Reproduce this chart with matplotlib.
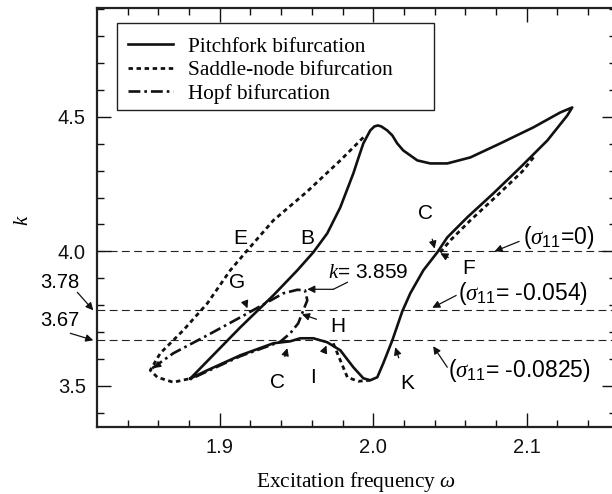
import matplotlib
matplotlib.use('Agg')
import matplotlib.pyplot as plt
from matplotlib.patches import Rectangle

plt.rcParams['font.family'] = 'Liberation Sans'
plt.rcParams['mathtext.fontset'] = 'custom'
plt.rcParams['mathtext.rm'] = 'Liberation Sans'
plt.rcParams['mathtext.it'] = 'Liberation Serif:italic'

# pitchfork bifurcation set (closed loop)
pitch_w = [1.8808, 1.9134, 1.9349, 1.9505, 1.9609, 1.9700, 1.9785, 1.9870, 1.9902, 1.9935,
           1.9980, 2.0007, 2.0030, 2.0052, 2.0091, 2.0124, 2.0156, 2.0195, 2.0287, 2.0371,
           2.0482, 2.0632, 2.0827, 2.1042, 2.1218, 2.1296, 2.1264, 2.1134, 2.0958, 2.0782,
           2.0612, 2.0482, 2.0417, 2.0326, 2.0241, 2.0189, 2.0124, 2.0065, 2.0026, 1.9980,
           1.9935, 1.9870, 1.9785, 1.9700, 1.9609, 1.9524, 1.9459, 1.9349, 1.9134, 1.8919,
           1.8808]
pitch_k = [3.527, 3.7175, 3.8364, 3.9294, 3.9963, 4.0669, 4.1636, 4.2900, 4.3457, 4.4015,
           4.4498, 4.4647, 4.4684, 4.4647, 4.4498, 4.4312, 4.4015, 4.3755, 4.3383, 4.3271,
           4.3271, 4.3494, 4.4015, 4.4610, 4.5167, 4.5353, 4.5056, 4.4126, 4.3123, 4.2156,
           4.1264, 4.0520, 3.9963, 3.9294, 3.8439, 3.7770, 3.6691, 3.5836, 3.5316, 3.5204,
           3.5279, 3.5688, 3.6320, 3.6617, 3.6766, 3.6766, 3.6654, 3.6580, 3.6134, 3.5576,
           3.527]

# saddle-node bifurcation set (three pieces)
sn1_w = [1.9935, 1.9785, 1.9570, 1.9349, 1.9179, 1.9068, 1.8919, 1.8762, 1.8612, 1.8547,
         1.8593, 1.8697, 1.8808]
sn1_k = [4.4238, 4.3383, 4.2230, 4.1152, 4.0037, 3.9294, 3.8067, 3.7063, 3.6208, 3.5576,
         3.5316, 3.5130, 3.527]
sn2_w = [1.9739, 1.9785, 1.9831, 1.9902, 1.9980]
sn2_k = [3.6580, 3.5948, 3.5316, 3.5167, 3.5204]
sn3_w = [2.0436, 2.0502, 2.0632, 2.0801, 2.0971, 2.1049]
sn3_k = [3.9963, 4.0409, 4.1152, 4.2045, 4.2974, 4.3532]

# Hopf bifurcation set
hopf_w = [1.8560, 1.8697, 1.8919, 1.9134, 1.9309, 1.9414, 1.9505, 1.9555, 1.9570, 1.9544,
          1.9511, 1.9459, 1.9394, 1.9349, 1.9134, 1.8919, 1.8808]
hopf_k = [3.5651, 3.6208, 3.6877, 3.7546, 3.8104, 3.8439, 3.8570, 3.8550, 3.8178, 3.7807,
          3.7323, 3.6952, 3.6640, 3.6545, 3.6100, 3.5540, 3.524]

# constant sigma_11 levels
sigma_k = [4.0, 3.78, 3.67]

fig = plt.figure(figsize=(6.12, 4.94), dpi=100)
ax = fig.add_axes([0.1585, 0.1356, 0.848, 0.8472])

for k in sigma_k:
    ax.axhline(k, color='#222222', lw=0.8, ls=(0, (7, 4)), zorder=1)

ax.plot(pitch_w, pitch_k, color='#111111', lw=1.9, solid_joinstyle='round',
        label='Pitchfork bifurcation', zorder=3)
ax.plot(sn1_w, sn1_k, color='#111111', lw=2.0, ls=(0, (1.6, 1.3)),
        label='Saddle-node bifurcation', zorder=3)
ax.plot(sn2_w, sn2_k, color='#111111', lw=2.0, ls=(0, (1.6, 1.3)), zorder=3)
ax.plot(sn3_w, sn3_k, color='#111111', lw=2.0, ls=(0, (1.6, 1.3)), zorder=3)
ax.plot(hopf_w, hopf_k, color='#111111', lw=1.9, ls=(0, (4.5, 1.5, 1, 1.5)),
        label='Hopf bifurcation', zorder=3)
ax.annotate('', xy=(1.8555, 3.560), xytext=(1.8600, 3.578),
            arrowprops=dict(arrowstyle='-|>', color='#111111', lw=1.2, mutation_scale=9))

ax.set_xlim(1.82, 2.1581)
ax.set_ylim(3.3465, 4.9035)
ax.set_xticks([1.9, 2.0, 2.1])
ax.set_yticks([3.5, 4.0, 4.5])
ax.set_xticks([x / 100 for x in range(184, 216, 2)], minor=True)
ax.set_yticks([y / 10 for y in range(34, 50)], minor=True)
ax.tick_params(which='both', direction='in', top=True, right=True, width=1.0,
               labelsize=14.5, colors='#111111')
ax.tick_params(which='major', length=10, pad=8)
ax.tick_params(which='minor', length=5)
for s in ax.spines.values():
    s.set_linewidth(1.6)
    s.set_color('#222222')

ax.set_xlabel(r'Excitation frequency $\omega$', family='Liberation Serif',
              fontsize=15.4, labelpad=9)
fig.text(0.036, 0.555, r'$k$', fontsize=15, rotation=90, ha='center', va='center')

# legend box drawn by hand, wider than its contents as in the original
ax.add_patch(Rectangle((0.0385, 0.7575), 0.6105, 0.2079, transform=ax.transAxes,
                       facecolor='white', edgecolor='#222222', lw=1.0, zorder=4))
leg = ax.legend(loc='upper left', bbox_to_anchor=(0.0598, 0.932), borderaxespad=0,
                prop={'family': 'Liberation Serif', 'size': 15.3}, frameon=False,
                handlelength=2.1, handletextpad=0.7, labelspacing=0.17, borderpad=0)
leg.set_zorder(5)

fs = 15
fs_sig = 16.5
arrow = dict(arrowstyle='-|>', color='#111111', lw=0.9, mutation_scale=11,
             shrinkA=0, shrinkB=0)

ax.text(1.9134, 4.048, 'E', fontsize=fs, ha='center', va='center')
ax.text(1.957, 4.048, 'B', fontsize=fs, ha='center', va='center')
ax.annotate('G', xy=(1.918, 3.788), xytext=(1.9114, 3.885), fontsize=fs,
            ha='center', va='center', arrowprops=dict(arrow, shrinkA=9))
ax.text(1.9707, 3.922, r'$k$= 3.859', fontsize=fs, ha='left', va='center')
ax.plot([1.9831, 1.9739], [3.8848, 3.8587], color='#111111', lw=0.9)
ax.annotate('', xy=(1.957, 3.859), xytext=(1.9739, 3.8587), arrowprops=arrow)
ax.annotate('H', xy=(1.9535, 3.766), xytext=(1.9766, 3.721), fontsize=fs,
            ha='center', va='center', arrowprops=dict(arrow, shrinkA=8))
ax.annotate('C', xy=(1.944, 3.64), xytext=(1.9375, 3.513), fontsize=fs,
            ha='center', va='center', arrowprops=dict(arrow, shrinkA=10))
ax.annotate('I', xy=(1.9695, 3.65), xytext=(1.961, 3.53), fontsize=fs,
            ha='center', va='center', arrowprops=dict(arrow, shrinkA=10))
ax.annotate('K', xy=(2.0143, 3.643), xytext=(2.022, 3.509), fontsize=fs,
            ha='center', va='center', arrowprops=dict(arrow, shrinkA=10))
ax.annotate('C', xy=(2.040, 4.01), xytext=(2.034, 4.141), fontsize=fs,
            ha='center', va='center', arrowprops=dict(arrow, shrinkA=10))
ax.annotate('F', xy=(2.0437, 3.993), xytext=(2.062, 3.937), fontsize=fs,
            ha='center', va='center', arrowprops=dict(arrow, shrinkA=9))

ax.annotate('', xy=(2.079, 4.0), xytext=(2.095, 4.037), arrowprops=arrow)
ax.text(2.0977, 4.052, r'($\sigma_{11}$=0)', fontsize=fs_sig, ha='left', va='center')
ax.annotate('', xy=(2.0384, 3.79), xytext=(2.054, 3.836), arrowprops=arrow)
ax.text(2.0554, 3.844, r'($\sigma_{11}$= -0.054)', fontsize=fs_sig, ha='left', va='center')
ax.annotate('', xy=(2.039, 3.647), xytext=(2.0482, 3.569), arrowprops=arrow)
ax.text(2.0489, 3.558, r'($\sigma_{11}$= -0.0825)', fontsize=fs_sig, ha='left', va='center')

ax.text(1.7961, 3.8848, '3.78', fontsize=14.5, ha='center', va='center', clip_on=False)
ax.text(1.7961, 3.7435, '3.67', fontsize=14.5, ha='center', va='center', clip_on=False)
ax.annotate('', xy=(1.8176, 3.7807), xytext=(1.8072, 3.8476), arrowprops=arrow,
            annotation_clip=False)
ax.annotate('', xy=(1.8176, 3.6691), xytext=(1.8026, 3.6952), arrowprops=arrow,
            annotation_clip=False)

fig.savefig('out.png', dpi=100)
